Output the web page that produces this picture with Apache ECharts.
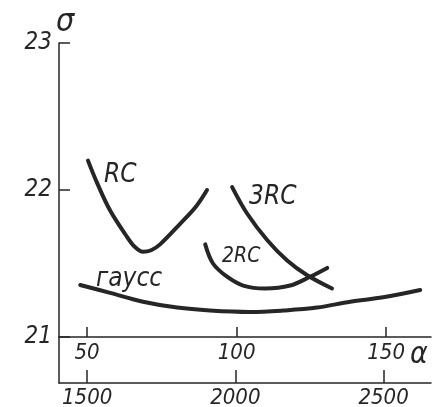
<!DOCTYPE html>
<html>
<head>
<meta charset="utf-8">
<script src="https://cdn.jsdelivr.net/npm/echarts@6/dist/echarts.min.js"></script>
<style>
html,body{margin:0;padding:0;background:#fff;}
#c{width:439px;height:407px;}
</style>
</head>
<body>
<div id="c"></div>
<script>
// α (upper axis) vs σ
const alphaTicks = [50, 100, 150];
const lowerTicks = [1500, 2000, 2500];
const sigmaTicks = [21, 22, 23];

const rcAlpha    = [50.3, 53.3, 57.7, 63.4, 66.1, 68.7, 71.4, 74.4, 81.1, 86.5, 90.1];
const rcSigma    = [22.20, 22.05, 21.86, 21.68, 21.61, 21.58, 21.59, 21.63, 21.77, 21.89, 22.00];

const rc2Alpha   = [89.5, 92.1, 96.8, 102.2, 109.5, 117.9, 124.6, 130.3];
const rc2Sigma   = [21.63, 21.50, 21.41, 21.35, 21.33, 21.35, 21.41, 21.47];

const rc3Alpha   = [98.5, 103.5, 110.2, 116.9, 123.6, 131.9];
const rc3Sigma   = [22.02, 21.84, 21.66, 21.52, 21.42, 21.33];

const gaussAlpha = [47.7, 57.7, 68.7, 80.1, 91.1, 104.5, 115.6, 126.9, 138.0, 149.0, 161.4];
const gaussSigma = [21.354, 21.30, 21.24, 21.20, 21.18, 21.17, 21.18, 21.20, 21.24, 21.27, 21.32];

const zip = (a, b) => a.map((v, i) => [v, b[i]]);

const INK = '#262626';
const FONT = "'Liberation Sans Narrow', 'DejaVu Sans Condensed', 'Liberation Sans', sans-serif";

const chart = echarts.init(document.getElementById('c'), null, {renderer: 'canvas'});

const lineSeries = (name, data) => ({
  name, type: 'line', xAxisIndex: 0, yAxisIndex: 0,
  data, smooth: 0.35, symbol: 'none',
  lineStyle: {color: INK, width: 4, cap: 'round'},
  silent: true, z: 3
});

chart.setOption({
  backgroundColor: '#ffffff',
  animation: false,
  grid: [
    {left: 59, top: 43, width: 372, height: 294, outerBoundsMode: 'none', containLabel: false},
    {left: 59, top: 337, width: 372, height: 46, outerBoundsMode: 'none', containLabel: false}
  ],
  xAxis: [
    {
      gridIndex: 0, type: 'value', min: 40.6, max: 165, position: 'bottom',
      name: 'α', nameLocation: 'end', nameGap: -21, nameMoveOverlap: false,
      nameTextStyle: {color: INK, fontSize: 30, fontStyle: 'italic', fontFamily: FONT, verticalAlign: 'top', align: 'left', padding: [3, 0, 0, 0]},
      axisLine: {show: true, lineStyle: {color: INK, width: 1.5}},
      axisTick: {show: true, inside: true, length: 10, lineStyle: {color: INK, width: 1.5}, customValues: alphaTicks},
      axisLabel: {show: true, margin: 5, color: INK, fontSize: 22, fontStyle: 'italic', fontFamily: FONT, customValues: alphaTicks, formatter: v => String(v)},
      splitLine: {show: false}
    },
    {
      gridIndex: 1, type: 'value', min: 1405, max: 2660, position: 'bottom',
      axisLine: {show: true, lineStyle: {color: INK, width: 1.5}},
      axisTick: {show: true, inside: true, length: 13, lineStyle: {color: INK, width: 1.5}, customValues: lowerTicks},
      axisLabel: {show: true, margin: 4, color: INK, fontSize: 22, fontStyle: 'italic', fontFamily: FONT, customValues: lowerTicks, formatter: v => String(v)},
      splitLine: {show: false}
    }
  ],
  yAxis: [
    {
      gridIndex: 0, type: 'value', min: 21, max: 23, interval: 1,
      name: 'σ', nameLocation: 'end', nameGap: 4, nameMoveOverlap: false,
      nameTextStyle: {color: INK, fontSize: 32, fontStyle: 'italic', fontFamily: FONT, align: 'left', verticalAlign: 'bottom', padding: [0, 0, 0, -3]},
      axisLine: {show: true, lineStyle: {color: INK, width: 1.5}},
      axisTick: {show: true, inside: true, length: 11, lineStyle: {color: INK, width: 1.5}},
      axisLabel: {show: true, margin: 7, color: INK, fontSize: 24, fontStyle: 'italic', fontFamily: FONT, formatter: v => String(v)},
      splitLine: {show: false}
    },
    {
      gridIndex: 1, type: 'value', min: 0, max: 1,
      axisLine: {show: true, lineStyle: {color: INK, width: 1.5}},
      axisTick: {show: false}, axisLabel: {show: false}, splitLine: {show: false}
    }
  ],
  series: [
    lineSeries('RC', zip(rcAlpha, rcSigma)),
    lineSeries('2RC', zip(rc2Alpha, rc2Sigma)),
    lineSeries('3RC', zip(rc3Alpha, rc3Sigma)),
    lineSeries('гаусс', zip(gaussAlpha, gaussSigma))
  ],
  graphic: [
    {type: 'text', left: 104, top: 162, style: {text: 'RC', fill: INK, font: "italic 26px " + FONT}},
    {type: 'text', left: 249, top: 184, style: {text: '3RC', fill: INK, font: "italic 26px " + FONT}},
    {type: 'text', left: 222, top: 246, style: {text: '2RC', fill: INK, font: "italic 21px " + FONT}},
    {type: 'text', left: 96, top: 266, style: {text: 'гаусс', fill: INK, font: "italic 26px " + FONT}}
  ]
});
</script>
</body>
</html>
